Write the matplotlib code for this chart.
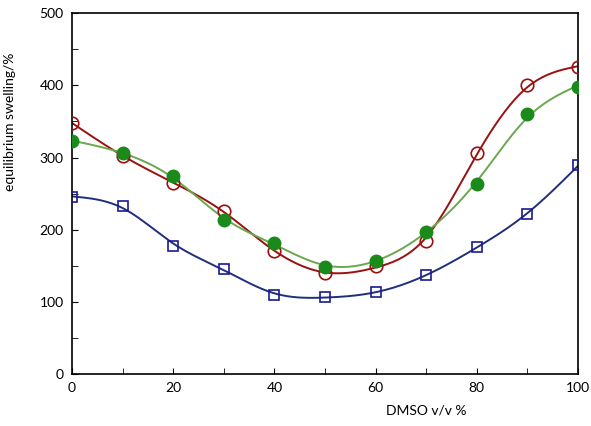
import numpy as np
import matplotlib.pyplot as plt
from matplotlib.ticker import MultipleLocator

plt.rcParams['font.family'] = ['Lato', 'DejaVu Sans']

# datos
dmso = [0, 10, 20, 30, 40, 50, 60, 70, 80, 90, 100]
red = [348, 302, 265, 226, 170, 140, 150, 185, 306, 400, 425]
green = [323, 306, 274, 213, 182, 149, 157, 197, 264, 360, 398]
blue = [245, 233, 178, 146, 110, 107, 113, 137, 176, 222, 289]

fig = plt.figure(figsize=(5.91, 4.26), dpi=100)
ax = fig.add_axes([0.122, 0.122, 0.856, 0.847])

h = 0.5
xs = np.arange(0, 100 + h / 2, h)

def suave(y, lam=30.0):
    # spline de suavizado discreto (minimos cuadrados penalizados)
    n = len(xs)
    W = np.zeros(n)
    b = np.zeros(n)
    for xi, yi in zip(dmso, y):
        k = int(round(xi / h))
        W[k] = 1.0
        b[k] = yi
    D = np.diff(np.eye(n), 2, axis=0)
    A = np.diag(W) + lam / h**3 * D.T @ D
    return np.linalg.solve(A, b)

ax.plot(xs, suave(red, 18), c="#9a1010", lw=1.4, zorder=2)
ax.plot(xs, suave(green, 25), c="#6aa84f", lw=1.4, zorder=2)
ax.plot(xs, suave(blue, 20), c="#1f2f7a", lw=1.4, zorder=2)

ax.plot(dmso, red, "o", mfc="none", mec="#9a1010", ms=9, mew=1.2, zorder=3)
ax.plot(dmso, green, "o", mfc="#1a8a1a", mec="#1a8a1a", ms=9, zorder=3)
ax.plot(dmso, blue, "s", mfc="none", mec="#1a1a90", ms=7.5, mew=1.2, zorder=3)

ax.set_xlim(0, 100)
ax.set_ylim(0, 500)
ax.xaxis.set_major_locator(MultipleLocator(20))
ax.xaxis.set_minor_locator(MultipleLocator(10))
ax.yaxis.set_major_locator(MultipleLocator(100))
ax.yaxis.set_minor_locator(MultipleLocator(50))
ax.tick_params(which="both", direction="in", top=False, right=False, labelsize=10, pad=6)
ax.tick_params(which="major", length=4)
ax.tick_params(which="minor", length=4)
for s in ax.spines.values():
    s.set_linewidth(1.2)

ax.set_xlabel("DMSO v/v %", fontsize=10)
ax.set_ylabel("equilibrium swelling/%", fontsize=10)
ax.xaxis.set_label_coords(0.7, -0.085)
ax.yaxis.set_label_coords(-0.11, 0.7)

fig.savefig("out.png", dpi=100)
